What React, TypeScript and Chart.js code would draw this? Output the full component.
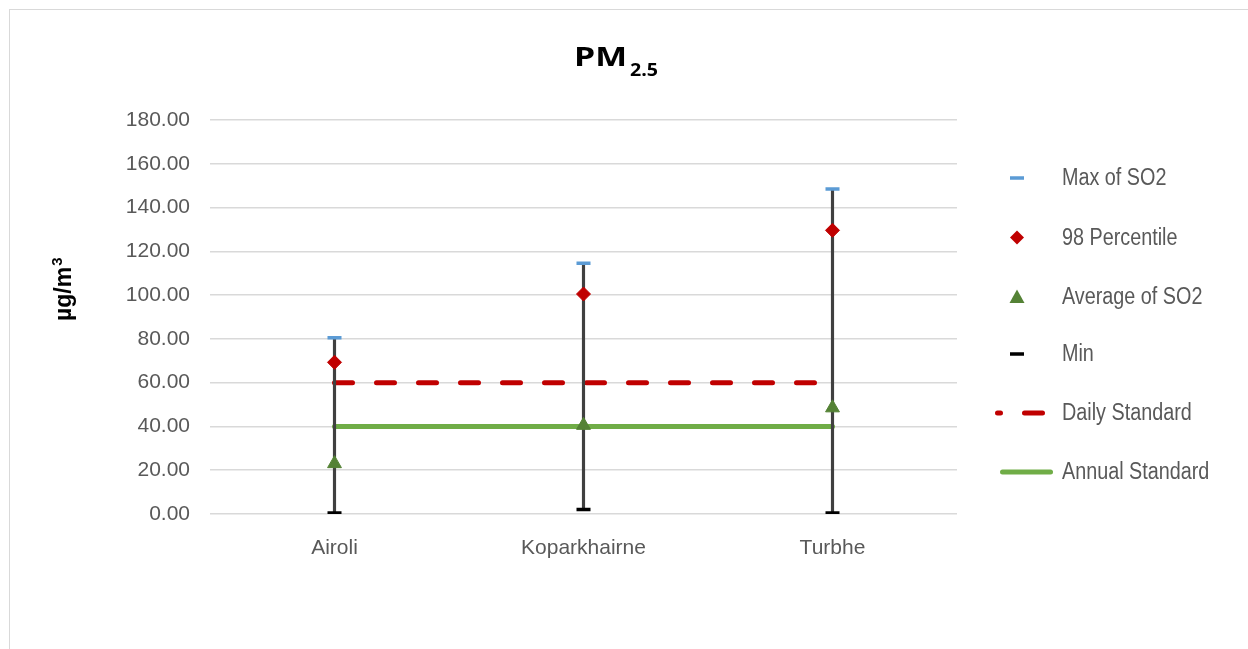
import React, { useEffect, useRef } from 'react';
import { Chart, registerables } from 'chart.js';

Chart.register(...registerables);

const categories = ['Airoli', 'Koparkhairne', 'Turbhe'];
const maxValues = [80.5, 114.5, 148.5];
const p98Values = [69.3, 100.5, 129.6];
const avgValues = [23, 40.5, 48.5];
const minValues = [0.5, 2.0, 0.5];
const dailyStandard = [60, 60, 60];
const annualStandard = [40, 40, 40];
const legendLabels = ['Max of SO2', '98 Percentile', 'Average of SO2', 'Min', 'Daily Standard', 'Annual Standard'];

const NARROW = "'Liberation Sans Narrow', 'Arial Narrow', 'Liberation Sans', sans-serif";
const TITLE_FONT = "'Open Sans', 'Liberation Sans', sans-serif";
const TEXT_GREY = '#595959';
const C_MAX = '#5B9BD5';
const C_P98 = '#C00000';
const C_AVG = '#548235';
const C_MIN = '#000000';
const C_DAILY = '#C00000';
const C_ANNUAL = '#70AD47';

const overlayPlugin = {
  id: 'overlay',
  afterDraw(chart: any) {
    const ctx = chart.ctx as CanvasRenderingContext2D;
    ctx.save();
    // Title PM2.5
    ctx.fillStyle = '#000000';
    ctx.textBaseline = 'alphabetic';
    ctx.textAlign = 'left';
    ctx.font = `bold 27px ${TITLE_FONT}`;
    const pmW = ctx.measureText('PM').width;
    ctx.save();
    ctx.translate(574, 66);
    ctx.scale(Math.min(1.25, 54 / pmW), 1);
    ctx.fillText('PM', 0, 0);
    ctx.restore();
    ctx.font = `bold 18px ${TITLE_FONT}`;
    const subW = ctx.measureText('2.5').width;
    ctx.save();
    ctx.translate(630, 76);
    ctx.scale(Math.min(1.25, 28 / subW), 1);
    ctx.fillText('2.5', 0, 0);
    ctx.restore();

    // Y axis title
    ctx.save();
    ctx.translate(71, 321);
    ctx.rotate(-Math.PI / 2);
    ctx.font = "bold 23px 'Liberation Sans', sans-serif";
    ctx.fillText('µg/m', 0, 0);
    const w = ctx.measureText('µg/m').width;
    ctx.font = "bold 15px 'Liberation Sans', sans-serif";
    ctx.fillText('3', w + 1, -9);
    ctx.restore();

    // Legend
    const ys = [178, 237.5, 297, 354, 413, 472];
    const mx = 1017;
    ctx.font = `23px ${NARROW}`;
    ctx.textBaseline = 'middle';
    ctx.fillStyle = TEXT_GREY;
    legendLabels.forEach((t, i) => {
      ctx.save();
      ctx.translate(1062, ys[i] + 1);
      ctx.scale(0.86, 1);
      ctx.fillText(t, 0, 0);
      ctx.restore();
    });
    // max dash
    ctx.fillStyle = C_MAX;
    ctx.fillRect(mx - 7, ys[0] - 1.75, 14, 3.5);
    // diamond
    ctx.fillStyle = C_P98;
    ctx.beginPath();
    ctx.moveTo(mx, ys[1] - 7);
    ctx.lineTo(mx + 7, ys[1]);
    ctx.lineTo(mx, ys[1] + 7);
    ctx.lineTo(mx - 7, ys[1]);
    ctx.closePath();
    ctx.fill();
    // triangle
    ctx.fillStyle = C_AVG;
    ctx.beginPath();
    ctx.moveTo(mx, ys[2] - 7.5);
    ctx.lineTo(mx + 7.5, ys[2] + 6);
    ctx.lineTo(mx - 7.5, ys[2] + 6);
    ctx.closePath();
    ctx.fill();
    // min dash
    ctx.fillStyle = C_MIN;
    ctx.fillRect(mx - 7, ys[3] - 1.75, 14, 3.5);
    // daily dashed
    ctx.strokeStyle = C_DAILY;
    ctx.lineWidth = 5;
    ctx.lineCap = 'round';
    ctx.setLineDash([18, 24]);
    ctx.lineDashOffset = 15;
    ctx.beginPath();
    ctx.moveTo(997.5, ys[4]);
    ctx.lineTo(1050.5, ys[4]);
    ctx.stroke();
    ctx.setLineDash([]);
    ctx.strokeStyle = C_ANNUAL;
    ctx.beginPath();
    ctx.moveTo(1002.5, ys[5]);
    ctx.lineTo(1050.5, ys[5]);
    ctx.stroke();
    ctx.restore();
  },
};

export default function App() {
  const ref = useRef<HTMLCanvasElement | null>(null);
  useEffect(() => {
    if (!ref.current) return;
    const chart = new Chart(ref.current, {
      data: {
        labels: categories,
        datasets: [
          {
            type: 'line',
            label: 'Max of SO2',
            data: maxValues,
            showLine: false,
            pointStyle: 'line',
            pointRadius: 7,
            pointBorderWidth: 3.5,
            pointBorderColor: C_MAX,
            pointBackgroundColor: C_MAX,
            order: 1,
          },
          {
            type: 'line',
            label: '98 Percentile',
            data: p98Values,
            showLine: false,
            pointStyle: 'rectRot',
            pointRadius: 7,
            pointBorderWidth: 1,
            pointBorderColor: C_P98,
            pointBackgroundColor: C_P98,
            order: 2,
          },
          {
            type: 'line',
            label: 'Average of SO2',
            data: avgValues,
            showLine: false,
            pointStyle: 'triangle',
            pointRadius: 8,
            pointBorderWidth: 1,
            pointBorderColor: C_AVG,
            pointBackgroundColor: C_AVG,
            order: 3,
          },
          {
            type: 'line',
            label: 'Min',
            data: minValues,
            showLine: false,
            pointStyle: 'line',
            pointRadius: 7,
            pointBorderWidth: 3.5,
            pointBorderColor: C_MIN,
            pointBackgroundColor: C_MIN,
            order: 4,
          },
          {
            type: 'bar',
            label: 'Range',
            data: categories.map((_, i) => [minValues[i], maxValues[i]]) as any,
            backgroundColor: '#404040',
            barThickness: 2.5,
            order: 10,
          },
          {
            type: 'line',
            label: 'Daily Standard',
            data: dailyStandard,
            borderColor: C_DAILY,
            borderWidth: 5,
            borderCapStyle: 'round',
            borderDash: [18, 24],
            pointRadius: 0,
            order: 20,
          },
          {
            type: 'line',
            label: 'Annual Standard',
            data: annualStandard,
            borderColor: C_ANNUAL,
            borderWidth: 5,
            borderCapStyle: 'round',
            pointRadius: 0,
            order: 21,
          },
        ] as any,
      },
      options: {
        responsive: false,
        animation: false,
        events: [],
        layout: { padding: { left: 0, right: 291, top: 120, bottom: 0 } },
        plugins: { legend: { display: false }, tooltip: { enabled: false }, title: { display: false } },
        scales: {
          x: {
            type: 'category',
            offset: true,
            grid: { display: false, drawTicks: false },
            border: { display: false },
            ticks: { color: TEXT_GREY, font: { family: NARROW, size: 21 }, padding: 22, maxRotation: 0 },
            afterFit: (s: any) => { s.height = 135; },
          },
          y: {
            min: 0,
            max: 180,
            grid: { color: '#D9D9D9', lineWidth: 1.5, drawTicks: false },
            border: { display: false },
            ticks: {
              stepSize: 20,
              color: TEXT_GREY,
              font: { family: NARROW, size: 21 },
              padding: 20,
              callback: (v: any) => Number(v).toFixed(2),
            },
            afterFit: (s: any) => { s.width = 210; },
          },
        },
      } as any,
      plugins: [overlayPlugin],
    });
    return () => chart.destroy();
  }, []);
  return (
    <div style={{ position: 'fixed', left: 0, top: 0, width: 1248, height: 649, background: '#fff', overflow: 'hidden' }}>
      <div style={{ position: 'absolute', left: 9, top: 9, width: 1400, height: 800, borderTop: '1px solid #D9D9D9', borderLeft: '1px solid #D9D9D9' }} />
      <canvas ref={ref} width={1248} height={649} style={{ position: 'absolute', left: 0, top: 0, width: 1248, height: 649 }} />
    </div>
  );
}
